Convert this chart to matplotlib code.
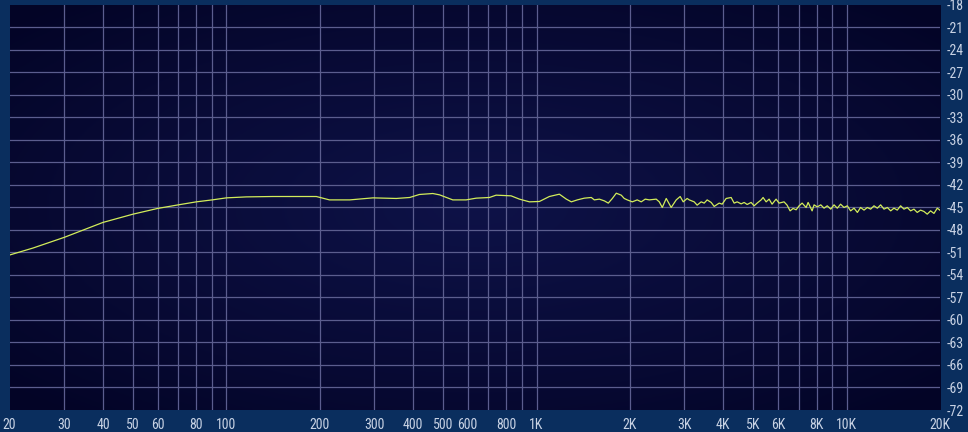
#frequency response plot, analyser style (dark navy panel, yellow trace)

import numpy as np;
import matplotlib;
matplotlib.use('Agg');
import matplotlib.pyplot as plt;
from matplotlib import font_manager;

#smooth low/mid part of the response, 20 Hz - 1.1 kHz
freqLow = [20, 23.8, 30, 34.5, 40, 50, 60, 70, 80, 90, 100, 116, 141, 195, 215, 250,
           297, 353, 390, 419, 463, 487, 537, 593, 639, 705, 741, 828, 881, 949, 1022, 1100];
dbLow = [-51.36, -50.43, -49.01, -48.04, -47.02, -45.92, -45.16, -44.68, -44.28, -44.02,
         -43.75, -43.62, -43.57, -43.57, -44.02, -44.02, -43.75, -43.83, -43.70, -43.30,
         -43.17, -43.35, -44.02, -44.02, -43.79, -43.70, -43.39, -43.48, -43.92, -44.28,
         -44.23, -43.57];

#1.2 kHz - 3 kHz, starts to wobble
freqMid = [1185, 1248, 1295, 1354, 1426, 1502, 1536, 1594, 1655, 1704, 1756, 1808, 1876,
           1918, 1962, 2036, 2112, 2176, 2242, 2310, 2432, 2488, 2544, 2620, 2718, 2822,
           2906, 2972, 3060];
dbMid = [-43.26, -43.92, -44.28, -44.02, -43.79, -43.70, -44.02, -43.92, -44.15, -44.45,
         -43.83, -43.13, -43.39, -43.83, -44.02, -44.28, -44.02, -44.28, -43.92, -44.02,
         -43.92, -44.28, -45.03, -43.83, -45.03, -44.02, -43.57, -44.28, -43.83];

#3 kHz - 7.7 kHz
freqHigh = [3108, 3224, 3296, 3396, 3472, 3550, 3658, 3740, 3882, 3968, 4088, 4242, 4338,
            4436, 4570, 4672, 4778, 4920, 5032, 5144, 5300, 5378, 5500, 5624, 5748, 5922,
            6056, 6284, 6428, 6572, 6720, 6872, 7026, 7186, 7402, 7512, 7738];
dbHigh = [-44.02, -44.28, -44.72, -44.28, -44.45, -44.02, -44.36, -44.89, -44.45, -44.59,
          -43.83, -43.70, -44.45, -44.28, -44.55, -44.36, -44.63, -44.36, -44.81, -44.45,
          -44.02, -43.70, -44.28, -43.92, -44.59, -43.92, -44.45, -44.28, -44.72, -45.48,
          -45.16, -45.34, -44.81, -44.45, -45.03, -44.36, -45.48];

#7.8 kHz - 20 kHz, noisy top end
freqTop = [7852, 8040, 8252, 8456, 8660, 8888, 9106, 9330, 9560, 9808, 10050, 10300, 10564,
           10830, 11090, 11378, 11660, 11950, 12252, 12560, 12870, 13196, 13530, 13870,
           14212, 14560, 14930, 15306, 15690, 16080, 16484, 16890, 17310, 17754, 18190,
           18650, 19122, 19600, 20000];
dbTop = [-44.68, -44.95, -44.68, -45.12, -44.81, -45.25, -44.68, -45.12, -44.59, -45.03,
         -44.81, -45.48, -45.12, -45.69, -45.03, -45.38, -45.03, -45.25, -44.81, -45.12,
         -44.68, -45.25, -45.03, -45.48, -45.12, -45.38, -44.81, -45.25, -45.03, -45.48,
         -45.25, -45.69, -45.38, -45.56, -45.92, -45.48, -45.82, -45.12, -45.40];

#axis labels
xTicks = [20, 30, 40, 50, 60, 80, 100, 200, 300, 400, 500, 600, 800, 1000, 2000, 3000,
          4000, 5000, 6000, 8000, 10000, 20000];
xTickLabels = ['20', '30', '40', '50', '60', '80', '100', '200', '300', '400', '500', '600',
               '800', '1K', '2K', '3K', '4K', '5K', '6K', '8K', '10K', '20K'];
xGrid = [30, 40, 50, 60, 70, 80, 90, 100, 200, 300, 400, 500, 600, 700, 800, 900,
         1000, 2000, 3000, 4000, 5000, 6000, 7000, 8000, 9000, 10000];
yTicks = list(range(-18, -73, -3));

#colours
figColour = '#0a2e5e';
gridColour = '#5b5d8e';
textColour = '#c8d2e4';
traceColour = '#d2ec5a';

#look for a narrow font, the analyser uses a condensed face
installed = set(f.name for f in font_manager.fontManager.ttflist);
narrowFonts = [n for n in ['Liberation Sans Narrow', 'DejaVu Sans Condensed', 'Noto Sans ExtraCondensed',
                           'Noto Sans Condensed', 'Roboto Condensed', 'Open Sans Condensed'] if n in installed];
condensedDejaVu = any(f.name == 'DejaVu Sans' and f.stretch == 'condensed' for f in font_manager.fontManager.ttflist);
if narrowFonts:
    labelFont = dict(family=narrowFonts[0], fontstretch='condensed', fontsize=10);
elif condensedDejaVu:
    labelFont = dict(family='DejaVu Sans', fontstretch='condensed', fontsize=9);
else:
    labelFont = dict(family='DejaVu Sans', fontsize=8);

fig = plt.figure(figsize=(9.68, 4.32), dpi=100, facecolor=figColour);
rect = [9.6 / 968, 1 - 410 / 432, (940 - 9.6) / 968, (410 - 4.5) / 432];

#background panel with a soft glow in the middle
bgAx = fig.add_axes(rect, zorder=0);
gx, gy = np.meshgrid(np.linspace(-1, 1, 400), np.linspace(-1, 1, 200));
glow = np.clip(1 - np.sqrt(gx ** 2 + gy ** 2) / 1.35, 0, 1) ** 0.9;
edgeCol = np.array([0.012, 0.016, 0.15]);
midCol = np.array([0.055, 0.07, 0.28]);
bgAx.imshow(edgeCol + (midCol - edgeCol) * glow[..., None], aspect='auto', extent=[0, 1, 0, 1]);
bgAx.set_axis_off();

ax = fig.add_axes(rect, zorder=1);
ax.set_facecolor('none');
ax.set_xscale('log');
ax.set_xlim(20, 20000);
ax.set_ylim(-72, -18);

#grid lines
for f in xGrid:
    ax.axvline(f, color=gridColour, lw=0.9, zorder=1);
for d in yTicks[1:-1]:
    ax.axhline(d, color=gridColour, lw=0.9, zorder=1);

#the trace
freq = freqLow + freqMid + freqHigh + freqTop;
db = dbLow + dbMid + dbHigh + dbTop;
ax.plot(freq, db, color=traceColour, lw=0.9, zorder=3);

#ticks
ax.set_xticks(xTicks);
ax.set_xticklabels(xTickLabels, **labelFont);
ax.minorticks_off();
ax.set_yticks(yTicks);
ax.set_yticklabels([str(d) for d in yTicks], **labelFont);
ax.yaxis.tick_right();
ax.tick_params(axis='both', length=0, colors=textColour);
ax.tick_params(axis='x', pad=6);
ax.tick_params(axis='y', pad=5);
for s in ax.spines.values():
    s.set_visible(False);

fig.savefig('out.png', dpi=100, facecolor=figColour);
